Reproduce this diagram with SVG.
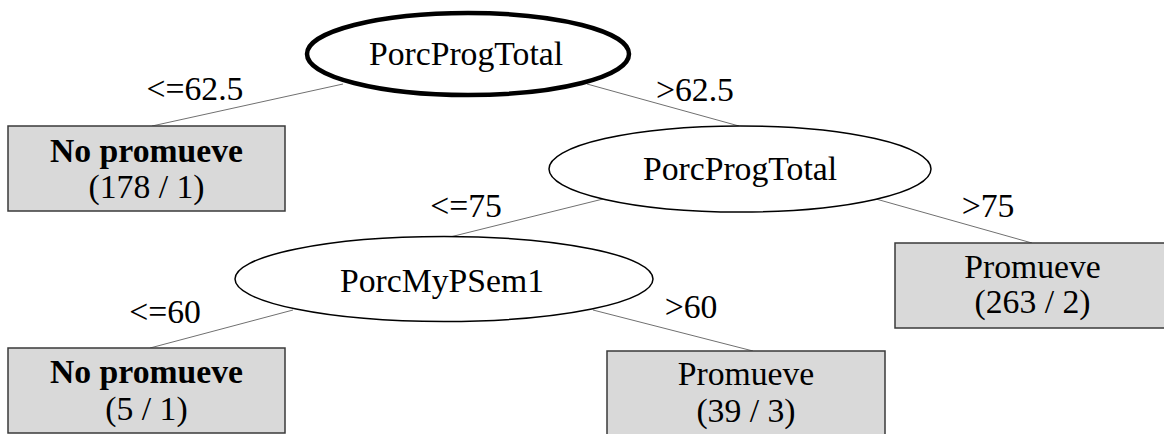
<svg xmlns="http://www.w3.org/2000/svg" width="1164" height="434" viewBox="0 0 1164 434">
  <style>
    text { font-family: "Liberation Serif", "Times New Roman", serif; font-size: 33.7px; fill: #000; text-anchor: middle; }
    .bold { font-weight: bold; }
    .edge { stroke: #707070; stroke-width: 1; fill: none; }
    .split { fill: #fff; stroke: #000; stroke-width: 1.5; }
    .root { fill: #fff; stroke: #000; stroke-width: 4.5; }
    .leaf { fill: #d9d9d9; stroke: #3a3a3a; stroke-width: 1.5; }
  </style>
  <rect width="1164" height="434" fill="#fff"/>

  <!-- branches with their split conditions -->
  <g id="edges">
    <line class="edge" x1="343" y1="84" x2="152" y2="126"/>
    <line class="edge" x1="587" y1="84" x2="739" y2="126"/>
    <line class="edge" x1="603" y1="199" x2="450" y2="237"/>
    <line class="edge" x1="876" y1="199" x2="1032" y2="243"/>
    <line class="edge" x1="293" y1="310" x2="150" y2="348"/>
    <line class="edge" x1="593" y1="310" x2="753" y2="351"/>
    <text x="195" y="100">&lt;=62.5</text>
    <text x="695" y="101">&gt;62.5</text>
    <text x="466" y="217">&lt;=75</text>
    <text x="988" y="217">&gt;75</text>
    <text x="165" y="323">&lt;=60</text>
    <text x="691" y="318">&gt;60</text>
  </g>

  <g id="node-root">
    <ellipse class="root" cx="468" cy="54" rx="161" ry="41"/>
    <text x="466" y="65">PorcProgTotal</text>
  </g>

  <g id="leaf-left-top">
    <rect class="leaf" x="8" y="126" width="277" height="85"/>
    <text class="bold" x="146.5" y="162">No promueve</text>
    <text x="146.5" y="198">(178 / 1)</text>
  </g>

  <g id="node-progtotal-2">
    <ellipse class="split" cx="740" cy="169" rx="191" ry="43"/>
    <text x="740" y="180">PorcProgTotal</text>
  </g>

  <g id="leaf-right">
    <rect class="leaf" x="895" y="243" width="277" height="85"/>
    <text x="1032.5" y="278">Promueve</text>
    <text x="1032.5" y="313">(263 / 2)</text>
  </g>

  <g id="node-mypsem1">
    <ellipse class="split" cx="444" cy="279" rx="209" ry="42.5"/>
    <text x="442" y="292">PorcMyPSem1</text>
  </g>

  <g id="leaf-left-bottom">
    <rect class="leaf" x="8" y="348" width="277" height="85"/>
    <text class="bold" x="146.5" y="383">No promueve</text>
    <text x="146.5" y="420">(5 / 1)</text>
  </g>

  <g id="leaf-middle-bottom">
    <rect class="leaf" x="607" y="351" width="278" height="90"/>
    <text x="746" y="385">Promueve</text>
    <text x="746" y="422">(39 / 3)</text>
  </g>
</svg>
